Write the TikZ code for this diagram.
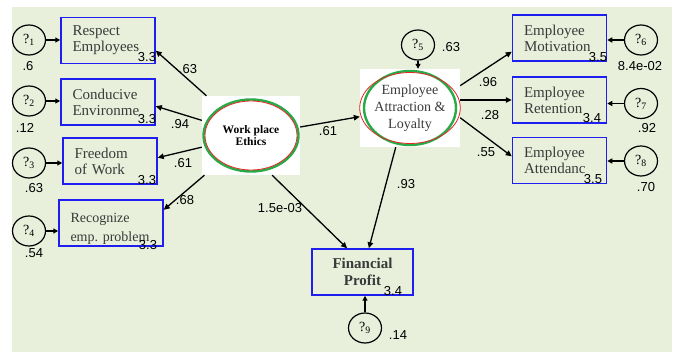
\documentclass[tikz,border=0pt]{standalone}
\usepackage{fontspec}
\setmainfont{Liberation Serif}
\setsansfont{Liberation Sans}
\usepackage{tikz}
\usetikzlibrary{arrows.meta,shapes.geometric}
\definecolor{semback}{HTML}{E8F0DC}
\definecolor{semblue}{RGB}{30,30,240}
\definecolor{semgreen}{RGB}{40,170,70}
\definecolor{semred}{RGB}{225,40,40}
\definecolor{semtext}{HTML}{3A3A3A}

\begin{document}
\begin{tikzpicture}[x=1pt,y=-1pt,
    obs/.style={rectangle,draw=semblue,line width=1.5pt,minimum height=46pt,
                inner xsep=11.5pt,inner ysep=0pt,text width=71pt,align=left,
                text=semtext,font=\fontsize{15}{16}\selectfont},
    err/.style={ellipse,draw,line width=1.2pt,minimum width=33pt,minimum height=30pt,
                inner sep=0pt,font=\fontsize{14}{14}\selectfont},
    latbg/.style={rectangle,fill=white,inner sep=0pt},
    latout/.style={ellipse,draw=semgreen,line width=2.4pt,inner sep=0pt},
    latin/.style={ellipse,draw=semred,line width=0.8pt,inner sep=0pt,align=center},
    num/.style={font=\sffamily\fontsize{13}{13}\selectfont,inner sep=0pt},
    arr/.style={-{Triangle[length=6pt,width=5.5pt]},line width=1.3pt},
    earr/.style={-{Triangle[length=5pt,width=5pt]},line width=1.2pt}]

  \useasboundingbox (0,0) rectangle (677,352);
  \fill[semback] (12,7) rectangle (672,352);

  % latent variables
  \node[latbg,minimum width=98pt,minimum height=79pt] (wpe) at (251,135.5) {};
  \node[latout,minimum width=95pt,minimum height=72pt] (wpeo) at (wpe) {};
  \node[latin,minimum width=92pt,minimum height=69pt,
        font=\bfseries\fontsize{11.5}{12}\selectfont] (wpei) at (wpe) {Work place\\Ethics};

  \node[latbg,minimum width=100pt,minimum height=78pt] (eal) at (410,108) {};
  \node[latout,minimum width=92pt,minimum height=74pt] (ealo) at (eal) {};
  \node[latin,minimum width=89pt,minimum height=71pt,
        font=\fontsize{14}{16.7}\selectfont,text=semtext] (eali) at (eal)
        {Employee\\Attraction \&\\Loyalty};

  % observed variables
  \node[obs] (rsp) at (108,40.5) {Respect\\Employees};
  \node[obs] (cnd) at (108,102) {Conducive\\Environme};
  \node[obs] (frd) at (110,161) {Freedom\\of Work};
  \node[obs,text width=81pt,font=\fontsize{14}{19}\selectfont] (rcg) at (111,223)
        {\rule{0pt}{20pt}Recognize\\\mbox{emp.\ problem}};
  \node[obs] (mot) at (559.5,38) {Employee\\Motivation};
  \node[obs] (ret) at (559.5,100) {Employee\\Retention};
  \node[obs] (att) at (559.5,160.5) {Employee\\Attendanc};
  \node[obs,text width=78pt,align=center,font=\bfseries\fontsize{15}{17}\selectfont]
        (fin) at (362.5,272) {Financial\\Profit};

  % error terms
  \node[err] (e1) at (29,40) {?\textsubscript{1}};
  \node[err] (e2) at (29,101) {?\textsubscript{2}};
  \node[err] (e3) at (29,163) {?\textsubscript{3}};
  \node[err] (e4) at (29,231) {?\textsubscript{4}};
  \node[err] (e5) at (418,45) {?\textsubscript{5}};
  \node[err] (e6) at (641,40) {?\textsubscript{6}};
  \node[err] (e7) at (641,103.5) {?\textsubscript{7}};
  \node[err] (e8) at (641,161) {?\textsubscript{8}};
  \node[err] (e9) at (365,328) {?\textsubscript{9}};

  \draw[earr] (e1.east) -- (e1 -| rsp.west);
  \draw[earr] (e2.east) -- (e2 -| cnd.west);
  \draw[earr] (e3.east) -- (e3 -| frd.west);
  \draw[earr] (e4.east) -- (e4 -| rcg.west);
  \draw[earr] (e5.south) -- (e5 |- eal.north);
  \draw[earr] (e6.west) -- (e6 -| mot.east);
  \draw[earr] (e7.west) -- (e7 -| ret.east);
  \draw[earr] (e8.west) -- (e8 -| att.east);
  \draw[earr] (e9.north) -- (e9 |- fin.south);

  % paths
  \draw[arr] (wpe) -- (rsp.-12);
  \draw[arr] (wpe) -- (cnd.-5);
  \draw[arr] (wpe) -- (frd.4);
  \draw[arr] (wpe) -- (rcg.14);
  \draw[arr] (wpe) -- (eal);
  \draw[arr] (wpe.-62) -- (fin.123);
  \draw[arr] (eal.-110) -- (fin.75);
  \draw[arr] (eal.24) -- (mot.196);
  \draw[arr] (ret.west -| eal.east) -- (ret.west);
  \draw[arr] (eal.-11) -- (att.175);

  % estimates
  \node[num] (n1) at (188,69) {.63};
  \node[num] (n2) at (180,124) {.94};
  \node[num] (n3) at (183,163) {.61};
  \node[num] (n4) at (185,200) {.68};
  \node[num] (n5) at (328,131) {.61};
  \node[num] (n6) at (280,208) {1.5e-03};
  \node[num] (n7) at (406,184) {.93};
  \node[num] (n8) at (488,82) {.96};
  \node[num] (n9) at (490,115) {.28};
  \node[num] (n10) at (486,152) {.55};

  \node[num] (v1) at (28,66) {.6};
  \node[num] (v2) at (25,128) {.12};
  \node[num] (v3) at (34,188) {.63};
  \node[num] (v4) at (34,253) {.54};
  \node[num] (v5) at (451,47) {.63};
  \node[num] (v6) at (640,66) {8.4e-02};
  \node[num] (v7) at (647,128) {.92};
  \node[num] (v8) at (646,187) {.70};
  \node[num] (v9) at (398,335) {.14};

  \node[num] (i1) at (147,57) {3.3};
  \node[num] (i2) at (147,119) {3.3};
  \node[num] (i3) at (147,180) {3.3};
  \node[num] (i4) at (148,245) {3.3};
  \node[num] (i5) at (598,57) {3.5};
  \node[num] (i6) at (592,118) {3.4};
  \node[num] (i7) at (593,179) {3.5};
  \node[num] (i8) at (393,291) {3.4};
\end{tikzpicture}
\end{document}
